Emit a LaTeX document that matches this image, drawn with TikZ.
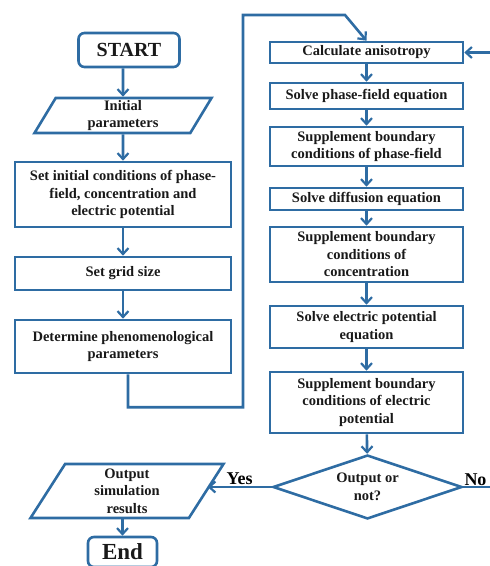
\documentclass[tikz,border=0pt]{standalone}
\usepackage{fontspec}
\setmainfont{Liberation Serif}
\usetikzlibrary{shapes.geometric,arrows.meta}
\definecolor{flowblue}{RGB}{46,108,163}

\begin{document}
\begin{tikzpicture}[x=1pt,y=1pt]
    \tikzstyle{block}=[draw=flowblue,line width=2.6pt,rectangle,align=center,inner sep=1pt,text=black!90,font=\bfseries\fontsize{14.5}{17.5}\selectfont]
    \tikzstyle{term}=[block,rounded corners=6pt]
    \tikzstyle{io}=[block,trapezium,trapezium stretches body]
    \tikzstyle{decision}=[block,diamond,aspect=2.9,inner sep=0pt]
    \tikzstyle{arr}=[draw=flowblue,line width=2.6pt,-{Straight Barb[length=6pt,width=11pt,line width=2.2pt]}]
    \tikzstyle{tag}=[inner sep=1pt,font=\bfseries\fontsize{18}{20}\selectfont]
    \useasboundingbox (0,0) rectangle (490,566);
    % left column
    \node[term,minimum width=101,minimum height=34,font=\bfseries\fontsize{20}{22}\selectfont] (start) at (129,516) {START};
    \node[io,trapezium left angle=57,trapezium right angle=123,minimum width=177,minimum height=35] (init) at (123,450.5) {Initial\\parameters};
    \node[block,minimum width=216,minimum height=65] (initcond) at (123,371.5) {Set initial conditions of phase-\\field, concentration and\\electric potential};
    \node[block,minimum width=216,minimum height=33] (grid) at (123,292.5) {Set grid size};
    \node[block,minimum width=216,minimum height=53] (pheno) at (123,219.5) {Determine phenomenological\\parameters};
    % right column
    \node[block,minimum width=193,minimum height=21] (aniso) at (366.5,513.5) {Calculate anisotropy};
    \node[block,minimum width=193,minimum height=26] (solvepf) at (366.5,470) {Solve phase-field equation};
    \node[block,minimum width=193,minimum height=39] (bcpf) at (366.5,419.5) {Supplement boundary\\conditions of phase-field};
    \node[block,minimum width=193,minimum height=22] (diff) at (366.5,367) {Solve diffusion equation};
    \node[block,minimum width=193,minimum height=55] (bcconc) at (366.5,311.5) {Supplement boundary\\conditions of\\concentration};
    \node[block,minimum width=193,minimum height=42] (solvee) at (366.5,239) {Solve electric potential\\equation};
    \node[block,minimum width=193,minimum height=61] (bce) at (366.5,163.5) {Supplement boundary\\conditions of electric\\potential};
    \node[decision,minimum width=189,minimum height=64] (dec) at (367.5,79) {Output or\\not?};
    % output and end
    \node[io,trapezium left angle=53.5,trapezium right angle=126.5,minimum width=193,minimum height=54] (out) at (127,75) {Output\\simulation\\results};
    \node[term,minimum width=69,minimum height=30,font=\bfseries\fontsize{23}{25}\selectfont] (end) at (122.5,14) {End};
    \coordinate (loopa) at (243,551);
    \coordinate (loopb) at (345,551);
    \coordinate (nox) at (500,79);

    \draw[arr] (start.south -| init) -- (init);
    \draw[arr] (init) -- (initcond);
    \draw[arr] (initcond) -- (grid);
    \draw[arr] (grid) -- (pheno);
    \draw[arr] ([xshift=5pt]pheno.south) -- ++(0,-33) -| (loopa) -- (loopb) -- (aniso.north);
    \draw[arr] (aniso) -- (solvepf);
    \draw[arr] (solvepf) -- (bcpf);
    \draw[arr] (bcpf) -- (diff);
    \draw[arr] (diff) -- (bcconc);
    \draw[arr] (bcconc) -- (solvee);
    \draw[arr] (solvee) -- (bce);
    \draw[arr] (bce) -- (dec);
    \draw[arr] (dec.west) -- (out.east |- dec.west) node[tag,midway,above] {Yes};
    \draw[arr] (dec.east) -- (nox) |- (aniso.east);
    \node[tag,above right] (no) at (dec.east) {No};
    \draw[arr] (end.north |- out.south) -- (end);
\end{tikzpicture}
\end{document}
